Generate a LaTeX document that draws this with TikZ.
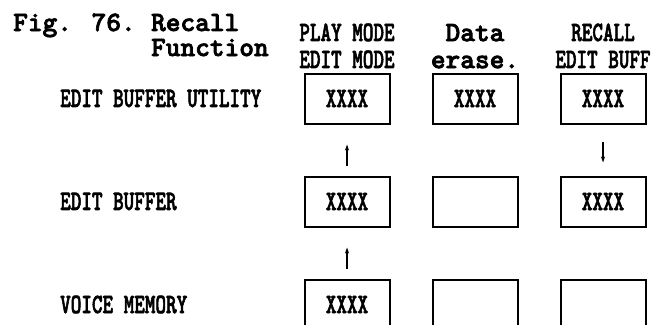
\documentclass[tikz,border=0pt]{standalone}
\usepackage{fontspec}
\usepackage{graphicx}
\usepackage{tikz}
\usetikzlibrary{positioning, arrows.meta}

\newfontfamily\typewriter[FakeBold=2.5]{lmmonolt10-bold.otf}
% narrow capitals of the table
\newcommand{\cond}[1]{\scalebox{0.72}[1]{#1}}

\begin{document}
\begin{tikzpicture}[
    x=1pt, y=-1pt,
    node distance=51pt and 41pt,
    typefont/.style={font=\fontsize{28}{25}\selectfont\typewriter},
    cell/.style={rectangle, draw, line width=2pt, minimum width=85pt, minimum height=50pt, inner sep=0pt, typefont},
    head/.style={align=center, inner sep=0pt, typefont},
    rowlabel/.style={anchor=west, inner sep=0pt, typefont},
    arrow/.style={-{Stealth[length=6pt, width=4pt]}, line width=1.2pt}
]
    \useasboundingbox (0,0) rectangle (655,324);

    % Cells
    \node[cell] (util1) at (347,98.5) {\cond{XXXX}};
    \node[cell, right=of util1] (util2) {\cond{XXXX}};
    \node[cell, right=of util2] (util3) {\cond{XXXX}};
    \node[cell, below=of util1] (buff1) {\cond{XXXX}};
    \node[cell, below=of util2] (buff2) {};
    \node[cell, below=of util3] (buff3) {\cond{XXXX}};
    \node[cell, below=of buff1] (voice1) {\cond{XXXX}};
    \node[cell, below=of buff2] (voice2) {};
    \node[cell, below=of buff3] (voice3) {};

    % Column heads
    \node[head, above=4pt of util1] (playhead) {\cond{PLAY MODE}\\[2pt]\cond{EDIT MODE}};
    \node[head, above=4pt of util2] (erasehead) {Data\\[2pt]erase.};
    \node[head, above=4pt of util3] (recallhead) {\cond{RECALL}\\[2pt]\cond{EDIT BUFF}};

    % Title
    \node[head, anchor=base west] (fig) at (13,31) {Fig. 76.};
    \node[head, align=left, anchor=base west] (title) at ([xshift=15pt, yshift=-25pt]fig.base east) {Recall\\Function};

    % Row labels
    \coordinate (labx) at (60,0);
    \node[rowlabel] (utillabel) at (labx |- util1) {\cond{EDIT BUFFER UTILITY}};
    \node[rowlabel] (bufflabel) at (labx |- buff1) {\cond{EDIT BUFFER}};
    \node[rowlabel] (voicelabel) at (labx |- voice1) {\cond{VOICE MEMORY}};

    % Transfers
    \draw[arrow, shorten <=10pt, shorten >=20pt] (buff1) -- (util1);
    \draw[arrow, shorten <=10pt, shorten >=20pt] (voice1) -- (buff1);
    \draw[arrow, shorten <=17pt, shorten >=13pt] (util3) -- (buff3);

\end{tikzpicture}
\end{document}
